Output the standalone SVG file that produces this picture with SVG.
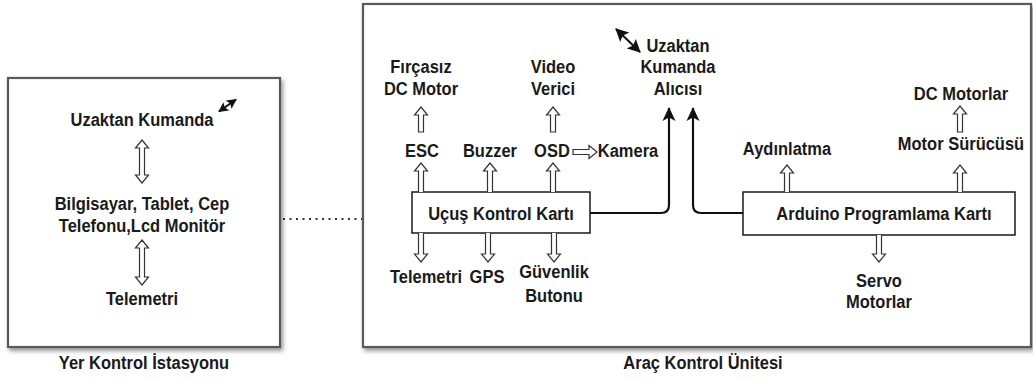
<svg xmlns="http://www.w3.org/2000/svg" width="1033" height="381" viewBox="0 0 1033 381">
<defs>
<style>
text{font-family:"Liberation Sans",Arial,sans-serif;font-weight:bold;font-size:16.5px;fill:#1a1a1a;text-anchor:middle}
.outer{fill:#fff;stroke:#5a5a5a;stroke-width:2.2}
.inner{fill:#fff;stroke:#1a1a1a;stroke-width:1.5}
.flex{fill:#fff;stroke:#333;stroke-width:1.2;stroke-linejoin:miter}
.conn{fill:none;stroke:#111;stroke-width:2.2}
.dot{fill:none;stroke:#333;stroke-width:2;stroke-dasharray:2 4.5}
.sig{fill:none;stroke:#111;stroke-width:2}
</style>
<filter id="sh" x="-5%" y="-5%" width="110%" height="112%">
<feDropShadow dx="2" dy="3" stdDeviation="2" flood-color="#555" flood-opacity="0.6"/>
</filter>
<marker id="ah" markerUnits="userSpaceOnUse" markerWidth="15" markerHeight="15" refX="13" refY="7.5" orient="auto" viewBox="0 0 15 15">
<path d="M0,1 L14,7.5 L0,14 L3.5,7.5 Z" fill="#111"/>
</marker>
<marker id="sm" markerUnits="userSpaceOnUse" markerWidth="10" markerHeight="10" refX="9" refY="5" orient="auto-start-reverse" viewBox="0 0 10 10">
<path d="M0,0 L10,5 L0,10 L2,5 Z" fill="#111"/>
</marker>
<marker id="md" markerUnits="userSpaceOnUse" markerWidth="13" markerHeight="13" refX="12" refY="6.5" orient="auto-start-reverse" viewBox="0 0 13 13">
<path d="M0,0 L13,6.5 L0,13 L2.5,6.5 Z" fill="#111"/>
</marker>
</defs>
<rect width="1033" height="381" fill="#fff"/>

<g id="yer-kontrol-istasyonu">
<rect class="outer" x="8" y="78" width="272" height="269" filter="url(#sh)"/>
<text x="144" y="369" transform="matrix(1,0,0,1.12,0,-44.28)">Yer Kontrol İstasyonu</text>
</g>
<g id="arac-kontrol-unitesi">
<rect class="outer" x="363" y="4" width="668" height="343" filter="url(#sh)"/>
<text x="703" y="369" transform="matrix(1,0,0,1.12,0,-44.28)">Araç Kontrol Ünitesi</text>
</g>

<g id="uzaktan-kumanda">
<text x="142" y="126" transform="matrix(1,0,0,1.12,0,-15.12)">Uzaktan Kumanda</text>
</g>
<g id="bilgisayar">
<text x="142" y="210" transform="matrix(1,0,0,1.12,0,-25.2)">Bilgisayar, Tablet, Cep</text>
<text x="142" y="232" transform="matrix(1,0,0,1.12,0,-27.84)">Telefonu,Lcd Monitör</text>
</g>
<g id="telemetri-yer">
<text x="142" y="305" transform="matrix(1,0,0,1.12,0,-36.6)">Telemetri</text>
</g>

<g id="alici">
<text x="678" y="52" transform="matrix(1,0,0,1.12,0,-6.24)">Uzaktan</text>
<text x="678" y="73" transform="matrix(1,0,0,1.12,0,-8.76)">Kumanda</text>
<text x="678" y="95" transform="matrix(1,0,0,1.12,0,-11.4)">Alıcısı</text>
</g>
<g id="fircasiz">
<text x="421" y="73" transform="matrix(1,0,0,1.12,0,-8.76)">Fırçasız</text>
<text x="421" y="95" transform="matrix(1,0,0,1.12,0,-11.4)">DC Motor</text>
</g>
<g id="video">
<text x="553" y="73" transform="matrix(1,0,0,1.12,0,-8.76)">Video</text>
<text x="553" y="95" transform="matrix(1,0,0,1.12,0,-11.4)">Verici</text>
</g>
<g id="esc"><text x="422" y="157" transform="matrix(1,0,0,1.12,0,-18.84)">ESC</text></g>
<g id="buzzer"><text x="490" y="157" transform="matrix(1,0,0,1.12,0,-18.84)">Buzzer</text></g>
<g id="osd"><text x="552" y="157" transform="matrix(1,0,0,1.12,0,-18.84)">OSD</text></g>
<g id="kamera"><text x="628" y="157" transform="matrix(1,0,0,1.12,0,-18.84)">Kamera</text></g>
<g id="ucus-kontrol-karti">
<rect class="inner" x="412" y="192" width="178" height="41"/>
<text x="501" y="220" transform="matrix(1,0,0,1.12,0,-26.4)">Uçuş Kontrol Kartı</text>
</g>
<g id="telemetri"><text x="426" y="283" transform="matrix(1,0,0,1.12,0,-33.96)">Telemetri</text></g>
<g id="gps"><text x="487" y="283" transform="matrix(1,0,0,1.12,0,-33.96)">GPS</text></g>
<g id="guvenlik">
<text x="554" y="278" transform="matrix(1,0,0,1.12,0,-33.36)">Güvenlik</text>
<text x="554" y="302" transform="matrix(1,0,0,1.12,0,-36.24)">Butonu</text>
</g>
<g id="aydinlatma"><text x="787" y="155" transform="matrix(1,0,0,1.12,0,-18.6)">Aydınlatma</text></g>
<g id="dc-motorlar"><text x="961" y="100" transform="matrix(1,0,0,1.12,0,-12)">DC Motorlar</text></g>
<g id="motor-surucusu"><text x="961" y="150" transform="matrix(1,0,0,1.12,0,-18)">Motor Sürücüsü</text></g>
<g id="arduino">
<rect class="inner" x="743" y="192" width="272" height="43"/>
<text x="884" y="220" transform="matrix(1,0,0,1.12,0,-26.4)">Arduino Programlama Kartı</text>
</g>
<g id="servo">
<text x="879" y="287" transform="matrix(1,0,0,1.12,0,-34.44)">Servo</text>
<text x="879" y="308" transform="matrix(1,0,0,1.12,0,-36.96)">Motorlar</text>
</g>

<g id="connectors">
<path class="dot" d="M283,219 H362"/>
<path class="sig" d="M219,111.5 L236,99.5" marker-start="url(#sm)" marker-end="url(#sm)"/>
<path class="sig" d="M616,29 L640,52" marker-start="url(#md)" marker-end="url(#md)"/>
<path class="conn" d="M590,213 H661 Q669,213 669,205 V108" marker-end="url(#ah)"/>
<path class="conn" d="M743,213 H701 Q693,213 693,205 V108" marker-end="url(#ah)"/>
<path class="flex" d="M418.5,132 V115 H414.5 L421,107 L427.5,115 H423.5 V132 Z"/>
<path class="flex" d="M550.5,132 V115 H546.5 L553,107 L559.5,115 H555.5 V132 Z"/>
<path class="flex" d="M418.5,192 V171 H414.5 L421,163 L427.5,171 H423.5 V192"/>
<path class="flex" d="M487.5,192 V171 H483.5 L490,163 L496.5,171 H492.5 V192"/>
<path class="flex" d="M550.5,192 V171 H546.5 L553,163 L559.5,171 H555.5 V192"/>
<path class="flex" d="M784.5,192 V173 H780.5 L787,165 L793.5,173 H789.5 V192"/>
<path class="flex" d="M957.5,192 V173 H953.5 L960,165 L966.5,173 H962.5 V192"/>
<path class="flex" d="M957.5,132 V114 H953.5 L960,106 L966.5,114 H962.5 V132 Z"/>
<path class="flex" d="M418.5,233 V254 H414.5 L421,262 L427.5,254 H423.5 V233"/>
<path class="flex" d="M485.5,233 V254 H481.5 L488,262 L494.5,254 H490.5 V233"/>
<path class="flex" d="M551.5,233 V254 H547.5 L554,262 L560.5,254 H556.5 V233"/>
<path class="flex" d="M876.5,235 V254 H872.5 L879,262 L885.5,254 H881.5 V235"/>
<path class="flex" d="M573,149.5 H589 V145.5 L597,152 L589,158.5 V154.5 H573 Z"/>
<path class="flex" d="M142,140 L148.5,148 H144.5 V175 H148.5 L142,183 L135.5,175 H139.5 V148 H135.5 Z"/>
<path class="flex" d="M142,240 L148.5,248 H144.5 V277 H148.5 L142,285 L135.5,277 H139.5 V248 H135.5 Z"/>
</g>
</svg>
